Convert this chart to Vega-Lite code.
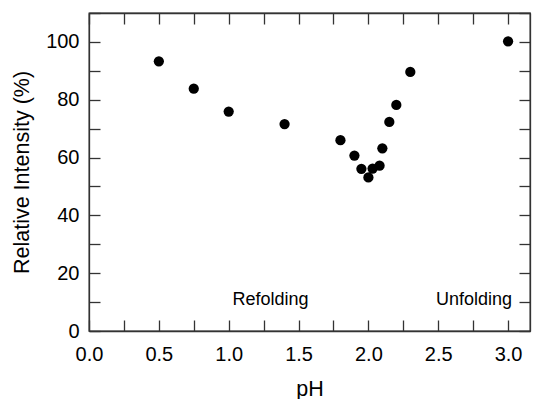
{
  "$schema": "https://vega.github.io/schema/vega-lite/v6.json",
  "width": 441,
  "height": 318,
  "autosize": {"type": "none"},
  "padding": {"left": 89, "top": 13, "right": 10, "bottom": 68},
  "background": "white",
  "config": {
    "view": {"stroke": "#222", "strokeWidth": 1.3},
    "font": "Liberation Sans",
    "axis": {
      "grid": false,
      "domainColor": "#333",
      "domainWidth": 1.3,
      "tickColor": "#333",
      "tickWidth": 1.3,
      "labelFont": "Liberation Sans",
      "titleFont": "Liberation Sans",
      "labelFontSize": 20,
      "titleFontSize": 21.5,
      "labelColor": "black",
      "titleColor": "black",
      "titleFontWeight": "normal"
    }
  },
  "datasets": {
    "points": [
      {"pH": 0.5, "intensity": 93.3},
      {"pH": 0.75, "intensity": 83.8},
      {"pH": 1.0, "intensity": 75.9},
      {"pH": 1.4, "intensity": 71.6},
      {"pH": 1.8, "intensity": 66.0},
      {"pH": 1.9, "intensity": 60.7},
      {"pH": 1.95, "intensity": 56.1},
      {"pH": 2.0, "intensity": 53.1},
      {"pH": 2.03, "intensity": 56.2},
      {"pH": 2.08, "intensity": 57.2},
      {"pH": 2.1, "intensity": 63.2},
      {"pH": 2.15, "intensity": 72.3},
      {"pH": 2.2, "intensity": 78.2},
      {"pH": 2.3, "intensity": 89.6},
      {"pH": 3.0, "intensity": 100.2}
    ],
    "labels": [
      {"pH": 1.3, "intensity": 10.8, "text": "Refolding"},
      {"pH": 2.756, "intensity": 10.8, "text": "Unfolding"}
    ]
  },
  "layer": [
    {
      "data": {"name": "points"},
      "mark": {"type": "circle", "size": 105, "color": "black", "opacity": 1},
      "encoding": {
        "x": {
          "field": "pH", "type": "quantitative",
          "scale": {"domain": [0, 3.157], "nice": false, "zero": false},
          "axis": {
            "orient": "bottom",
            "title": "pH",
            "values": [0, 0.25, 0.5, 0.75, 1, 1.25, 1.5, 1.75, 2, 2.25, 2.5, 2.75, 3],
            "labelExpr": "datum.value % 0.5 == 0 ? format(datum.value, '.1f') : ''",
            "tickSize": -11,
            "labelPadding": 24,
            "titlePadding": 14,
            "labelFlush": false
          }
        },
        "y": {
          "field": "intensity", "type": "quantitative",
          "scale": {"domain": [0, 110], "nice": false},
          "axis": {
            "orient": "left",
            "title": "Relative Intensity (%)",
            "values": [0, 10, 20, 30, 40, 50, 60, 70, 80, 90, 100, 110],
            "labelExpr": "datum.value % 20 == 0 && datum.value <= 100 ? format(datum.value, 'd') : ''",
            "tickSize": -11,
            "labelPadding": 21,
            "titlePadding": 12,
            "labelFlush": false
          }
        }
      }
    },
    {
      "data": {"name": "points"},
      "mark": {"type": "circle", "size": 105, "opacity": 0},
      "encoding": {
        "x": {
          "field": "pH", "type": "quantitative",
          "scale": {"domain": [0, 3.157], "nice": false, "zero": false},
          "axis": {
            "orient": "top", "title": null, "labels": false,
            "values": [0, 0.25, 0.5, 0.75, 1, 1.25, 1.5, 1.75, 2, 2.25, 2.5, 2.75, 3],
            "tickSize": -11
          }
        },
        "y": {
          "field": "intensity", "type": "quantitative",
          "scale": {"domain": [0, 110], "nice": false},
          "axis": {
            "orient": "right", "title": null, "labels": false,
            "values": [0, 10, 20, 30, 40, 50, 60, 70, 80, 90, 100, 110],
            "tickSize": -11
          }
        }
      }
    },
    {
      "data": {"name": "labels"},
      "mark": {"type": "text", "fontSize": 18, "font": "Liberation Sans", "color": "black", "baseline": "middle", "align": "center"},
      "encoding": {
        "x": {"field": "pH", "type": "quantitative", "scale": {"domain": [0, 3.157], "nice": false, "zero": false}, "axis": null},
        "y": {"field": "intensity", "type": "quantitative", "scale": {"domain": [0, 110], "nice": false}, "axis": null},
        "text": {"field": "text"}
      }
    }
  ],
  "resolve": {"axis": {"x": "independent", "y": "independent"}}
}
